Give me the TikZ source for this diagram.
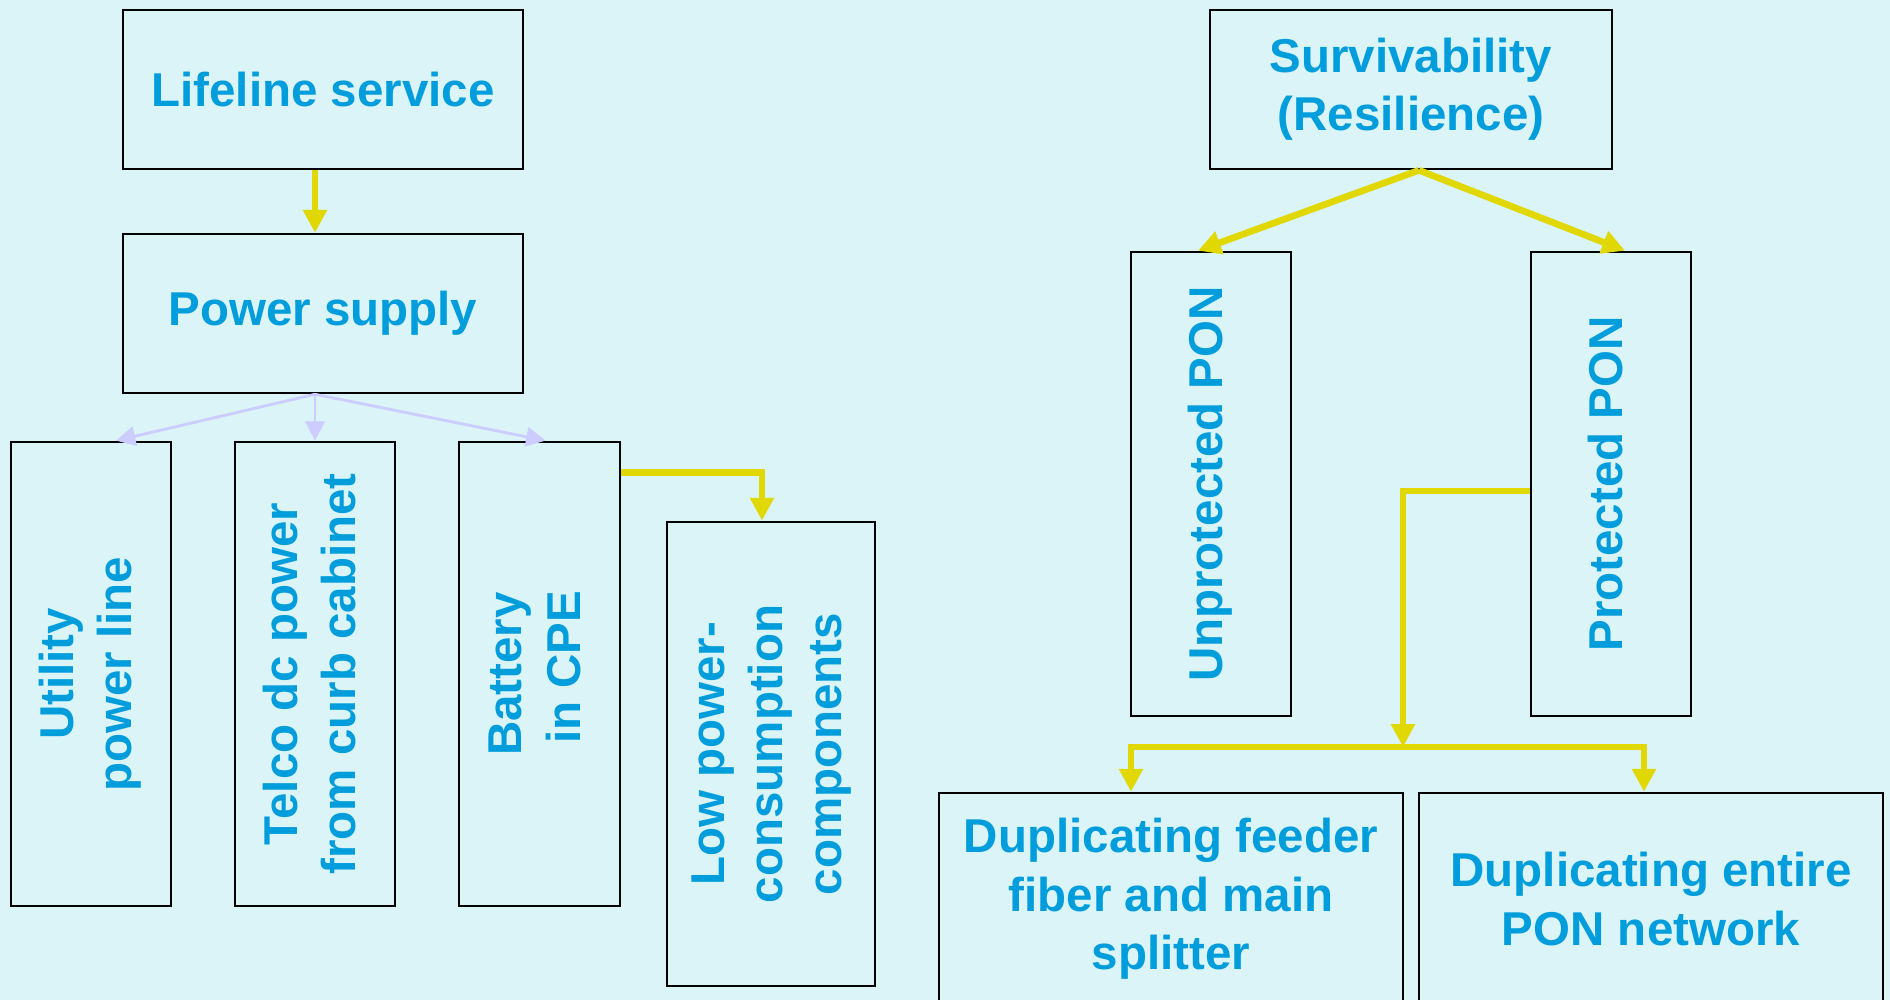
\documentclass[tikz,border=0pt]{standalone}
\usepackage{fontspec}
\setmainfont{Liberation Sans}
\usepackage{graphicx}
\usetikzlibrary{arrows.meta,calc}

\definecolor{bgcyan}{HTML}{DAF4F7}
\definecolor{txtblue}{HTML}{009DDC}
\definecolor{arrowyellow}{HTML}{E0D800}
\definecolor{lilac}{HTML}{CCCCFF}

\newcommand{\vlabel}[1]{\rotatebox{90}{\begin{tabular}{@{}c@{}}#1\end{tabular}}}

\tikzset{
  box/.style={draw=black,line width=0.7pt,text=txtblue,inner sep=0pt,align=center,
    font=\fontsize{13.5}{16.6}\selectfont\bfseries},
  yarrow/.style={draw=arrowyellow,line width=1.9pt,-{Triangle[length=6.5pt,width=6.5pt]}},
  larrow/.style={draw=lilac,line width=0.8pt,-{Triangle[length=5.5pt,width=5.5pt]}}
}

\begin{document}
\begin{tikzpicture}[x=0.01cm,y=-0.01cm]
  \clip (0,0) rectangle (1890,1000);
  \fill[bgcyan] (0,0) rectangle (1890,1000);

  % lifeline side
  \node[box,minimum width=4cm,minimum height=1.59cm] (life) at (323,89.5) {Lifeline service};
  \node[box,minimum width=4cm,minimum height=1.59cm] (power) at (323,313.5) {Power supply};
  \node[box,minimum width=1.6cm,minimum height=4.64cm] (util) at (91,674) {\vlabel{Utility\\power line}};
  \node[box,minimum width=1.6cm,minimum height=4.64cm] (telco) at (315,674) {\vlabel{Telco dc power\\from curb cabinet}};
  \node[box,minimum width=1.61cm,minimum height=4.64cm] (batt) at (539.5,674) {\vlabel{Battery\\~in CPE}};
  \node[box,minimum width=2.08cm,minimum height=4.64cm] (lowp) at (771,754) {\vlabel{Low power-\\consumption\\components}};

  \draw[yarrow] ($(life.south)+(-8,0)$) -- ($(power.north)+(-8,0)$);
  \coordinate (psrc) at ($(power.south)+(-8,0)$);
  \draw[larrow] (psrc) -- ($(util.north)+(25,0)$);
  \draw[larrow] (psrc) -- (telco.north);
  \draw[larrow] (psrc) -- ($(batt.north)+(6,0)$);
  \draw[yarrow] ($(batt.north east)+(0,32)$) -| ($(lowp.north)+(-9,0)$);

  % survivability side
  \node[box,minimum width=4.02cm,minimum height=1.59cm] (surv) at (1411,89.5) {Survivability\\(Resilience)};
  \node[box,minimum width=1.6cm,minimum height=4.64cm] (unprot) at (1211,484) {\vlabel{Unprotected PON}};
  \node[box,minimum width=1.6cm,minimum height=4.64cm] (prot) at (1611,484) {\vlabel{Protected PON}};
  \node[box,minimum width=4.64cm,minimum height=2.12cm] (dupf) at (1171,899) {Duplicating feeder\\fiber and main\\splitter};
  \node[box,minimum width=4.64cm,minimum height=2.12cm] (dupe) at (1651,899) {Duplicating entire\\PON network};

  \coordinate (ssrc) at ($(surv.south)+(8,0)$);
  \draw[yarrow] (ssrc) -- ($(unprot.north)+(-13,0)$);
  \draw[yarrow] (ssrc) -- ($(prot.north)+(14,0)$);
  \coordinate (bus) at (1403,747);
  \draw[yarrow] ($(prot.west)+(0,7)$) -| (bus);
  \draw[yarrow] (bus) -| ($(dupf.north)+(-40,0)$);
  \draw[yarrow] (bus) -| ($(dupe.north)+(-7,0)$);
\end{tikzpicture}
\end{document}
